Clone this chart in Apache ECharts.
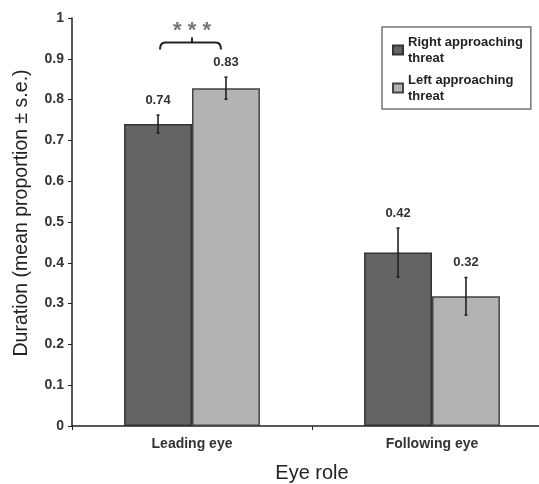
<!DOCTYPE html>
<html><head><meta charset="utf-8">
<script src="https://cdn.jsdelivr.net/npm/echarts@6/dist/echarts.min.js"></script>
<style>html,body{margin:0;padding:0;background:#fff}#c{width:539px;height:484px}</style>
</head><body><div id="c"></div>
<script>
var categories = ['Leading eye', 'Following eye'];
var seriesNames = ['Right approaching\nthreat', 'Left approaching\nthreat'];
var rightValues = [0.74, 0.425];
var leftValues = [0.828, 0.318];
var rightErrors = [0.022, 0.06];
var leftErrors = [0.027, 0.046];
var rightLabels = ['0.74', '0.42'];
var leftLabels = ['0.83', '0.32'];
var yTicks = [0, 0.1, 0.2, 0.3, 0.4, 0.5, 0.6, 0.7, 0.8, 0.9, 1];
var sigCategory = 0;
var sigLevel = 0.94;
var sigText = '* * *';

var FONT = 'Liberation Sans, Arial, sans-serif';
var BARW = 0.283;
var chart = echarts.init(document.getElementById('c'));

function errorItem(sIdx, vals, errs, labs) {
  return function (params, api) {
    var i = params.dataIndex;
    var c = api.coord([i, vals[i]]);
    var bw = api.size([1, 0])[0] * BARW;
    var x = c[0] + (sIdx === 0 ? -bw / 2 : bw / 2);
    var top = api.coord([i, vals[i] + errs[i]])[1];
    var bot = api.coord([i, vals[i] - errs[i]])[1];
    var st = {stroke: '#222', lineWidth: 1.6};
    return {type: 'group', children: [
      {type: 'line', shape: {x1: x, y1: top, x2: x, y2: bot}, style: st},
      {type: 'line', shape: {x1: x - 1.5, y1: top, x2: x + 1.5, y2: top}, style: st},
      {type: 'line', shape: {x1: x - 1.5, y1: bot, x2: x + 1.5, y2: bot}, style: st},
      {type: 'text', style: {text: labs[i], x: x, y: top - 15, align: 'center', verticalAlign: 'middle',
        font: 'bold 13px ' + FONT, fill: '#333'}}
    ]};
  };
}

var option = {
  backgroundColor: '#fff',
  animation: false,
  grid: {left: 72, top: 18, height: 408, width: 480, containLabel: false, outerBoundsMode: 'none'},
  legend: {
    data: seriesNames.map(function (n) { return {name: n, icon: 'rect'}; }),
    orient: 'vertical', left: 382, top: 27,
    borderColor: '#777', borderWidth: 1.5, borderRadius: 0,
    padding: [7, 8, 5, 10], itemWidth: 10, itemHeight: 9, itemGap: 6,
    textStyle: {fontFamily: FONT, fontSize: 13, fontWeight: 'bold', color: '#222', lineHeight: 16}
  },
  xAxis: {
    type: 'category', data: categories,
    name: 'Eye role', nameLocation: 'middle', nameGap: 37,
    nameTextStyle: {fontFamily: FONT, fontSize: 20, color: '#222'},
    axisLine: {lineStyle: {color: '#222', width: 1.5}},
    axisTick: {show: true, length: 4, lineStyle: {color: '#222'}},
    axisLabel: {fontFamily: FONT, fontSize: 14, fontWeight: 'bold', color: '#333', margin: 11}
  },
  yAxis: {
    type: 'value', min: 0, max: 1, interval: 0.1,
    name: 'Duration (mean proportion \u00b1 s.e.)', nameLocation: 'middle', nameGap: 40,
    nameTextStyle: {fontFamily: FONT, fontSize: 19.5, color: '#222', padding: [0, 0, 0, 18]},
    axisLine: {show: true, lineStyle: {color: '#222', width: 1.5}},
    axisTick: {show: true, length: 4, lineStyle: {color: '#222'}},
    splitLine: {show: false},
    axisLabel: {fontFamily: FONT, fontSize: 14, fontWeight: 'bold', color: '#333', margin: 8,
      formatter: function (v) { var t = yTicks.filter(function (k) { return Math.abs(k - v) < 1e-6; }); return t.length ? String(t[0]) : ''; }}
  },
  series: [
    {name: seriesNames[0], type: 'bar', data: rightValues, barWidth: (BARW * 100) + '%', barGap: '0%',
      itemStyle: {color: '#646464', borderColor: '#333', borderWidth: 1.5}},
    {name: seriesNames[1], type: 'bar', data: leftValues, barWidth: (BARW * 100) + '%', barGap: '0%',
      itemStyle: {color: '#b3b3b3', borderColor: '#444', borderWidth: 1.5}},
    {type: 'custom', data: rightValues, renderItem: errorItem(0, rightValues, rightErrors, rightLabels), z: 5, silent: true},
    {type: 'custom', data: leftValues, renderItem: errorItem(1, leftValues, leftErrors, leftLabels), z: 5, silent: true},
    {type: 'custom', data: [sigLevel], z: 6, silent: true,
      renderItem: function (params, api) {
        var c = api.coord([sigCategory, sigLevel]);
        var bw = api.size([1, 0])[0] * BARW;
        var x1 = c[0] - bw / 2 + 2, x2 = c[0] + bw / 2 - 5, y = c[1];
        var st = {stroke: '#222', lineWidth: 2, fill: null};
        return {type: 'group', children: [
          {type: 'path', shape: {pathData: 'M' + x1 + ' ' + (y + 7) + ' Q' + x1 + ' ' + y + ' ' + (x1 + 5) + ' ' + y +
            ' L' + (x2 - 5) + ' ' + y + ' Q' + x2 + ' ' + y + ' ' + x2 + ' ' + (y + 7)}, style: st},
          {type: 'line', shape: {x1: c[0], y1: y, x2: c[0], y2: y - 5}, style: st},
          {type: 'text', style: {text: sigText, x: c[0], y: y - 12, align: 'center', verticalAlign: 'middle',
            font: 'bold 22px ' + FONT, fill: '#777'}}
        ]};
      }}
  ]
};
chart.setOption(option);
</script></body></html>
